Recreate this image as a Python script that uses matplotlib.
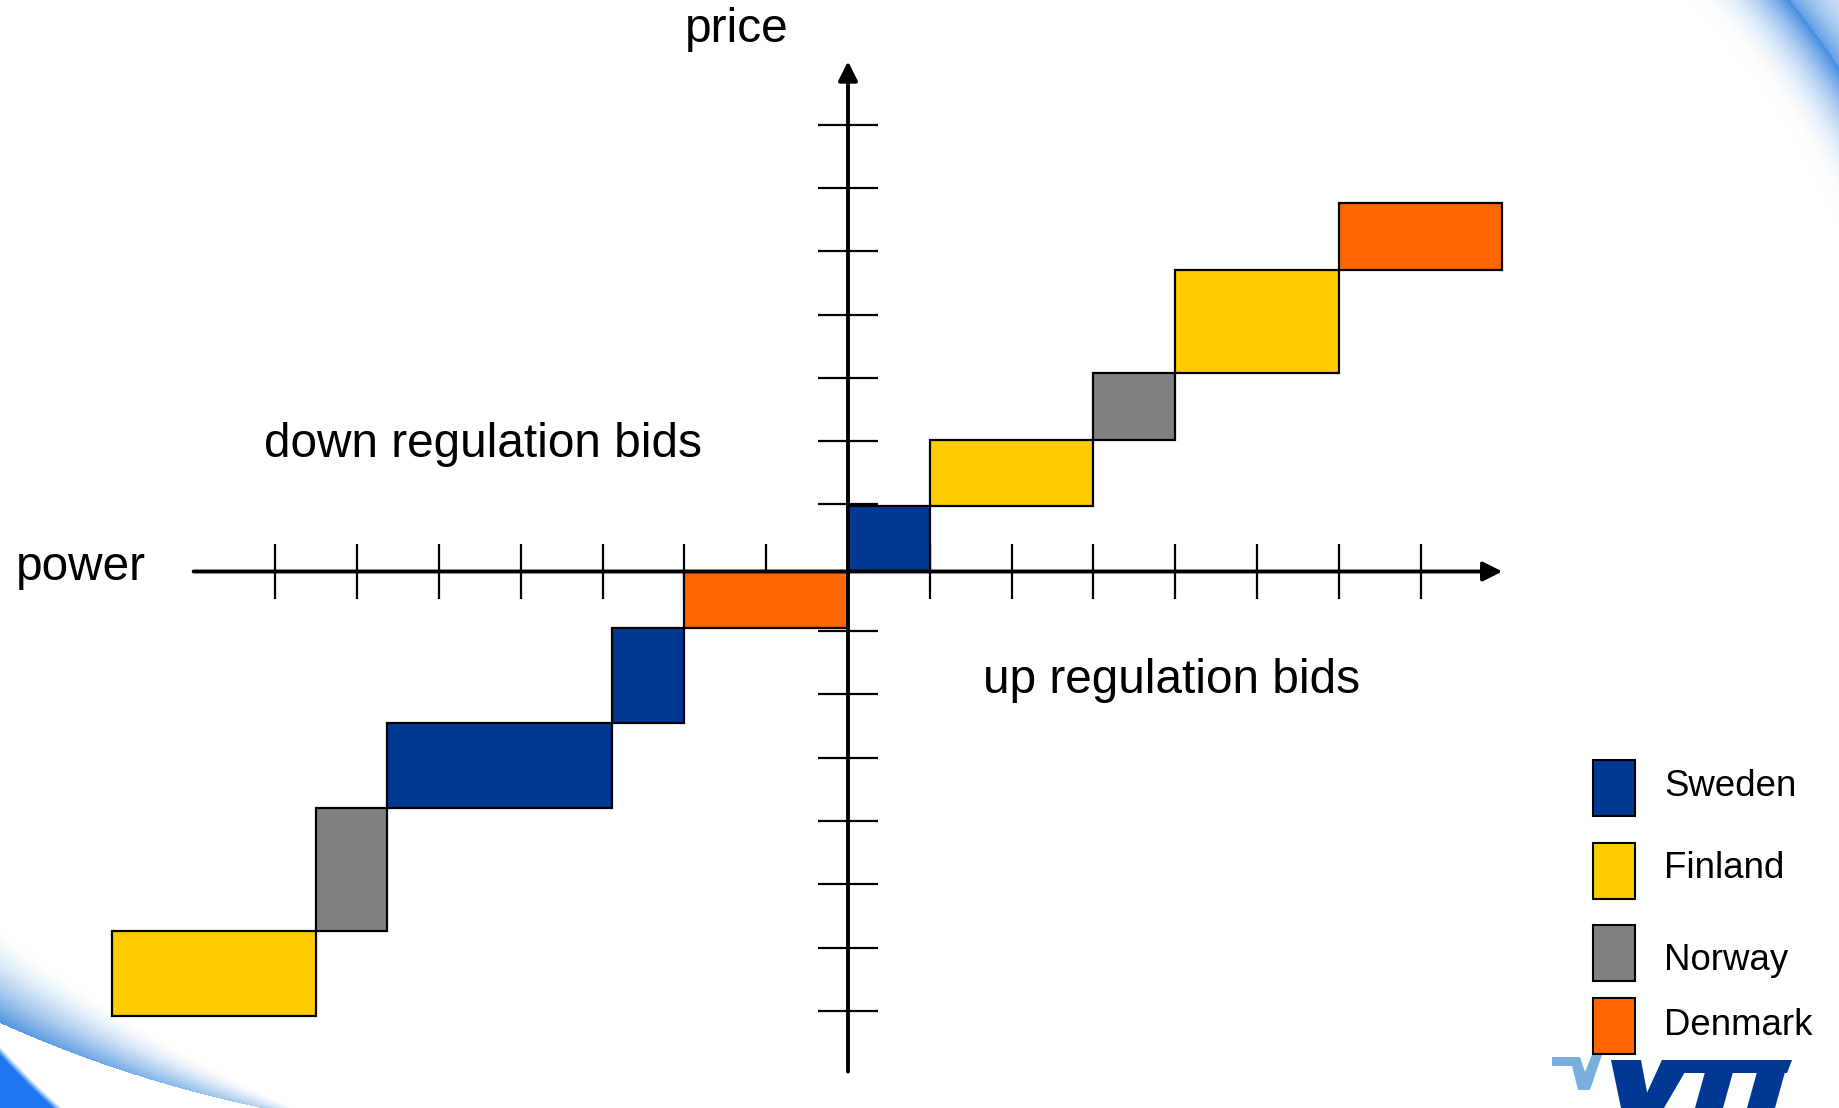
# Nordic balancing market: up / down regulation bid staircase

import numpy as np
import matplotlib.pyplot as plt
from matplotlib.patches import Polygon, Rectangle

plt.rcParams['font.family'] = ['Liberation Sans', 'DejaVu Sans']

W, H = 1839, 1108

# bid staircases: bar i covers edges[i]..edges[i+1] in power and in price
up_country = ['Sweden', 'Finland', 'Norway', 'Finland', 'Denmark']
up_power = [0, 1, 3, 4, 6, 8]
up_price = [-0.06, 0.98, 2.02, 3.08, 4.71, 5.76]

down_country = ['Denmark', 'Sweden', 'Sweden', 'Norway', 'Finland']
down_power = [0, -2, -2.88, -5.64, -6.5, -9.0]
down_price = [-0.06, -0.96, -2.45, -3.80, -5.74, -7.08]

countries = ['Sweden', 'Finland', 'Norway', 'Denmark']
country_colors = ['#003893', '#ffcc00', '#808080', '#ff6600']

power_ticks = [-7, -6, -5, -4, -3, -2, -1, 1, 2, 3, 4, 5, 6, 7]
price_ticks = [-7, -6, -5, -4, -3, -2, -1, 1, 2, 3, 4, 5, 6, 7]

color_of = dict(zip(countries, country_colors))

fig = plt.figure(figsize=(W / 100, H / 100), dpi=100)

# background layer in pixel units: blue swooshes, legend, logo
bg = fig.add_axes([0, 0, 1, 1])
bg.set_xlim(0, W)
bg.set_ylim(H, 0)
bg.axis('off')

yy, xx = np.mgrid[0:H, 0:W].astype(np.float32)
img = np.ones((H, W, 3), dtype=np.float32)


def blend(alpha, rgb):
    a = np.clip(alpha, 0, 1)[..., None]
    img[:] = img * (1 - a) + np.array(rgb, dtype=np.float32) * a


def ring(cx, cy, r):
    return np.hypot(xx - cx, yy - cy) - r


# top right swoosh
corner_tr = (xx > 1500) & (yy < 400)
d = ring(1088, 564, 900)
a = np.where(d < 0, np.clip((d + 75) / 75, 0, 1) ** 2.2, np.exp(-d / 35) * 0.85)
blend(a * corner_tr, (0.27, 0.55, 0.88))

# bottom left: tapering band with a sharp lower edge, white gap, solid corner
corner_bl = (xx < 420) & (yy > 850)
d = ring(519, -132, 1266)
width = 85 * np.clip(1 - xx / 320, 0.08, 1)
fade = np.clip(1 - xx / 360, 0, 1) ** 0.6
a = np.where(d <= 0, np.clip((d + width) / width, 0, 1) ** 1.6, 0) * fade
blend(a * 0.9 * corner_bl, (0.24, 0.54, 0.86))
d = ring(596, 511, 801)
blend(np.clip(d / 6, 0, 1) * corner_bl, (0.12, 0.47, 0.94))

bg.imshow(img, extent=(0, W, H, 0), zorder=0, interpolation='bilinear', aspect='auto')

# legend
legend_top = [760, 843, 925, 998]
legend_base = [796, 878, 970, 1035]
for name, top, base in zip(countries, legend_top, legend_base):
    bg.add_patch(Rectangle((1593, top), 42, 56, facecolor=color_of[name],
                           edgecolor='black', lw=1.5, zorder=5))
    bg.text(1664, base, name, fontsize=26.4, va='baseline', ha='left', zorder=5)

# VTT logo at the bottom edge
check = [(1552, 1057), (1580, 1057), (1585, 1072), (1598, 1040), (1607, 1040),
         (1590, 1090), (1578, 1090), (1572, 1066), (1552, 1066)]
bg.add_patch(Polygon(check, closed=True, facecolor='#7aaedc', edgecolor='none', zorder=3))
vtt = '#003893'
for shape in [
    [(1611, 1060), (1641, 1060), (1650, 1108), (1621, 1108)],
    [(1662, 1060), (1792, 1060), (1787, 1073), (1657, 1073)],
    [(1662, 1060), (1692, 1060), (1664, 1108), (1640, 1108)],
    [(1705, 1072), (1733, 1072), (1723, 1108), (1695, 1108)],
    [(1757, 1072), (1785, 1072), (1775, 1108), (1747, 1108)],
]:
    bg.add_patch(Polygon(shape, closed=True, facecolor=vtt, edgecolor='none', zorder=4))

# chart layer: one power unit = 81.8 px, one price unit = 63.3 px
ax = fig.add_axes([0, 0, 1, 1])
ax.set_xlim(-848 / 81.8, (W - 848) / 81.8)
ax.set_ylim((567.7 - H) / 63.3, 567.7 / 63.3)
ax.axis('off')
ax.patch.set_alpha(0)

y0 = -0.06  # power axis
ax.vlines(power_ticks, y0 - 0.44, y0 + 0.44, color='black', lw=1.6, zorder=1)
ax.hlines(price_ticks, -0.37, 0.37, color='black', lw=1.6, zorder=1)

for px, py, names in [(up_power, up_price, up_country),
                      (down_power, down_price, down_country)]:
    ax.bar(px[:-1], np.diff(py), width=np.diff(px), bottom=py[:-1], align='edge',
           color=[color_of[n] for n in names], edgecolor='black', lw=1.6, zorder=2)

arrow = dict(arrowstyle='-|>,head_length=0.4,head_width=0.2', lw=2.8, color='black',
             mutation_scale=29, shrinkA=0, shrinkB=0)
ax.annotate('', xy=(8.0, y0), xytext=(-8.0, y0), arrowprops=arrow, zorder=4)
ax.annotate('', xy=(0, 8.0), xytext=(0, -7.96), arrowprops=arrow, zorder=4)

ax.text(-1.99, 8.31, 'price', fontsize=34.4, va='baseline')
ax.text(-10.17, -0.19, 'power', fontsize=34.4, va='baseline')
ax.text(-7.14, 1.75, 'down regulation bids', fontsize=34.4, va='baseline')
ax.text(1.65, -1.98, 'up regulation bids', fontsize=34.4, va='baseline')

fig.savefig('out.png', dpi=100)
